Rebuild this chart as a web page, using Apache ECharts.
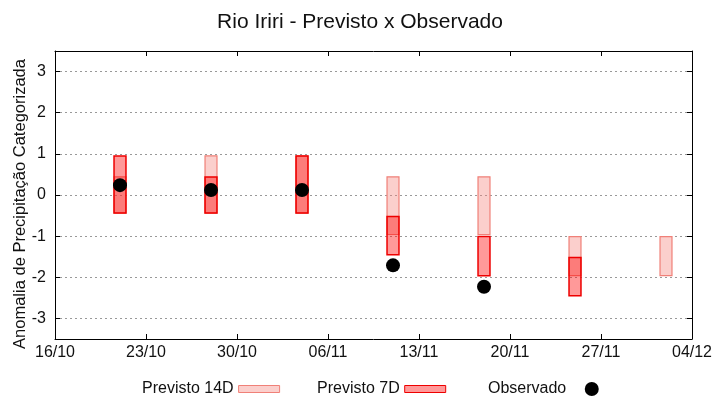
<!DOCTYPE html>
<html>
<head>
<meta charset="utf-8">
<script src="https://cdn.jsdelivr.net/npm/echarts@6/dist/echarts.min.js"></script>
<style>html,body{margin:0;padding:0;background:#fff}#c{width:720px;height:400px}</style>
</head>
<body>
<div id="c"></div>
<script>
// ---- data ----
const startDate = '2024-10-16';
const endDate = '2024-12-04';
const dates = ['2024-10-21','2024-10-28','2024-11-04','2024-11-11','2024-11-18','2024-11-25','2024-12-02'];
const prev14Low  = [-0.44, -0.44, -0.44, -0.96, -0.96, -1.96, -1.96];
const prev14High = [ 0.44,  0.95,  0.95,  0.44,  0.44, -1.01, -1.01];
const prev7Low   = [-0.44, -0.44, -0.44, -1.45, -1.96, -2.45, null];
const prev7High  = [ 0.95,  0.44,  0.95, -0.52, -1.01, -1.52, null];
const observado  = [ 0.24,  0.12,  0.12, -1.71, -2.23, null, null];
const yTicks = [-3, -2, -1, 0, 1, 2, 3];

// ---- helpers ----
const DAY = 86400000;
const t0 = Date.parse(startDate + 'T00:00:00Z');
const dayOf = d => Math.round((Date.parse(d + 'T00:00:00Z') - t0) / DAY);
const xMax = dayOf(endDate);
const fmt = v => { const d = new Date(t0 + v * DAY); return String(d.getUTCDate()).padStart(2,'0') + '/' + String(d.getUTCMonth()+1).padStart(2,'0'); };
const FONT = 'Liberation Sans';
const HALF = 0.46;

function rangeData(lo, hi) {
  const out = [];
  dates.forEach((d, i) => { if (lo[i] != null && hi[i] != null) out.push([dayOf(d), lo[i], hi[i]]); });
  return out;
}
function makeRender(fill, stroke, lw) {
  return function (params, api) {
    const x = api.value(0);
    const p1 = api.coord([x - HALF, api.value(2)]);
    const p2 = api.coord([x + HALF, api.value(1)]);
    return {
      type: 'rect',
      shape: { x: p1[0], y: p1[1], width: p2[0] - p1[0], height: p2[1] - p1[1] },
      style: { fill: fill, stroke: stroke, lineWidth: lw }
    };
  };
}
const c14 = { fill: 'rgba(245,130,120,0.38)', stroke: '#f08078', lw: 1.2 };
const c7  = { fill: 'rgba(255,0,0,0.4)', stroke: '#ee0000', lw: 1.5 };

const obsData = [];
dates.forEach((d, i) => { if (observado[i] != null) obsData.push([dayOf(d), observado[i]]); });

const chart = echarts.init(document.getElementById('c'), null, { renderer: 'canvas' });
const axisLine = { show: true, onZero: false, lineStyle: { color: '#000', width: 1 } };
const tick = { show: true, inside: true, length: 5, lineStyle: { color: '#000' } };
const legText = { fontFamily: FONT, fontSize: 16, color: '#111' };
chart.setOption({
  animation: false,
  textStyle: { fontFamily: FONT },
  title: {
    text: 'Rio Iriri - Previsto x Observado', left: 'center', top: 7,
    textStyle: { fontFamily: FONT, fontSize: 21, fontWeight: 'normal', color: '#111' }
  },
  legend: [
    { left: 142, top: 381, padding: 0, align: 'right', itemWidth: 41, itemHeight: 7, itemGap: 0, textStyle: legText,
      data: [{ name: 'Previsto 14D', icon: 'rect', itemStyle: { color: c14.fill, borderColor: c14.stroke, borderWidth: 1 } }] },
    { left: 317, top: 381, padding: 0, align: 'right', itemWidth: 41, itemHeight: 7, itemGap: 0, textStyle: legText,
      data: [{ name: 'Previsto 7D', icon: 'rect', itemStyle: { color: c7.fill, borderColor: c7.stroke, borderWidth: 1 } }] },
    { left: 488, top: 381, padding: 0, align: 'right', itemWidth: 41, itemHeight: 14, itemGap: 0, textStyle: legText,
      data: [{ name: 'Observado', icon: 'circle', itemStyle: { color: '#000', opacity: 1 } }] }
  ],
  grid: { left: 55, right: 28, top: 51, bottom: 61, containLabel: false, outerBoundsMode: 'none' },
  xAxis: [
    { type: 'value', min: 0, max: xMax, interval: 7, position: 'bottom',
      axisLine: axisLine, axisTick: tick,
      axisLabel: { formatter: fmt, fontFamily: FONT, fontSize: 16, color: '#111', margin: 6 },
      splitLine: { show: false } },
    { type: 'value', min: 0, max: xMax, interval: 7, position: 'top',
      axisLine: axisLine, axisTick: tick,
      axisLabel: { show: false }, splitLine: { show: false } }
  ],
  yAxis: [
    { type: 'value', min: -3.5, max: 3.5, position: 'left',
      name: 'Anomalia de Precipitação Categorizada', nameLocation: 'middle', nameGap: 26,
      nameMoveOverlap: false,
      nameTextStyle: { fontFamily: FONT, fontSize: 16.5, color: '#111', padding: [0, 18, 0, 0] },
      axisLine: axisLine,
      axisTick: Object.assign({ customValues: yTicks }, tick),
      axisLabel: { customValues: yTicks, fontFamily: FONT, fontSize: 16, color: '#111', margin: 9 },
      splitLine: { show: true, lineStyle: { color: '#999', type: [2, 3], width: 1 } } },
    { type: 'value', min: -3.5, max: 3.5, position: 'right',
      axisLine: axisLine,
      axisTick: Object.assign({ customValues: yTicks }, tick),
      axisLabel: { show: false }, splitLine: { show: false } }
  ],
  series: [
    { name: 'Previsto 14D', type: 'custom', xAxisIndex: 0, yAxisIndex: 0, z: 2,
      renderItem: makeRender(c14.fill, c14.stroke, c14.lw), encode: { x: 0, y: [1, 2] },
      itemStyle: { color: c14.fill }, data: rangeData(prev14Low, prev14High) },
    { name: 'Previsto 7D', type: 'custom', xAxisIndex: 0, yAxisIndex: 0, z: 3,
      renderItem: makeRender(c7.fill, c7.stroke, c7.lw), encode: { x: 0, y: [1, 2] },
      itemStyle: { color: c7.fill }, data: rangeData(prev7Low, prev7High) },
    { name: 'Observado', type: 'scatter', xAxisIndex: 0, yAxisIndex: 0, z: 4,
      symbol: 'circle', symbolSize: 14, itemStyle: { color: '#000', opacity: 1 }, data: obsData }
  ]
});
</script>
</body>
</html>
